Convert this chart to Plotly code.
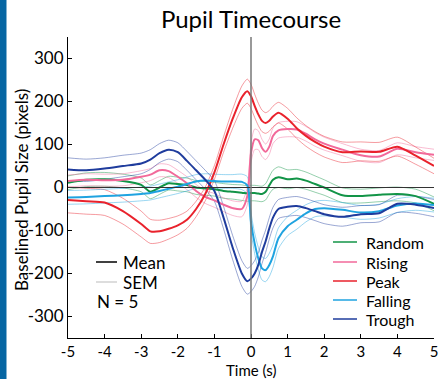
import plotly.graph_objects as go

# ---------------- data ----------------
time_s = [-5, -4.5, -4, -3.5, -3, -2.75, -2.5, -2.25, -2, -1.75, -1.5, -1.25, -1, -0.75,
          -0.5, -0.25, -0.1, 0, 0.1, 0.2, 0.3, 0.4, 0.5, 0.6, 0.75, 1, 1.25, 1.5, 1.75,
          2, 2.5, 3, 3.5, 4, 4.5, 5]

random_mean = [11, 18, 19, 15, 6, -10, 0, 10, 8, 6, 0, -2, -4, -8,
               -10, -12, -14, -13, -13, -14, -15, -10, 5, 18, 24, 19, 21, 16, 8,
               0, -18, -20, -17, -15, -20, -38]
random_sem = [16, 16, 16, 16, 16, 16, 16, 16, 16, 16, 16, 16, 16, 17,
              17, 18, 18, 18, 18, 18, 18, 19, 20, 22, 24, 22, 21, 20, 19,
              18, 17, 16, 16, 16, 16, 16]

rising_mean = [15, 18, 17, 18, 25, 30, 40, 38, 25, 10, -8, -22, -30, -40,
               -48, -50, -20, 80, 112, 110, 92, 83, 95, 120, 133, 136, 135, 125, 112,
               102, 88, 75, 72, 90, 82, 76]
rising_sem = [14, 14, 14, 14, 14, 14, 15, 15, 15, 15, 15, 15, 16, 16,
              17, 18, 20, 22, 24, 22, 20, 18, 18, 18, 18, 18, 18, 17, 16,
              15, 14, 14, 14, 14, 13, 13]

peak_mean = [-29, -32, -35, -55, -85, -102, -102, -96, -88, -75, -50, -15, 35, 100,
             160, 210, 224, 212, 190, 170, 155, 150, 155, 165, 174, 160, 138, 120, 106,
             95, 82, 84, 83, 95, 74, 50]
peak_sem = [30, 30, 30, 30, 30, 28, 26, 24, 22, 20, 18, 16, 16, 18,
            22, 26, 28, 28, 27, 26, 25, 24, 24, 24, 24, 24, 24, 24, 24,
            24, 24, 22, 22, 22, 20, 18]

falling_mean = [-23, -22, -20, -18, -15, -13, -8, -3, 2, 8, 14, 16, 15, 14,
                14, 13, 5, -80, -130, -165, -188, -192, -180, -160, -118, -90, -75, -60, -50,
                -48, -52, -58, -55, -42, -37, -41]
falling_sem = [16, 16, 16, 16, 16, 16, 16, 16, 16, 16, 16, 16, 16, 16,
               16, 18, 20, 22, 24, 26, 27, 27, 27, 26, 24, 22, 22, 20, 18,
               18, 17, 16, 16, 16, 16, 16]

trough_mean = [42, 40, 44, 50, 56, 65, 80, 88, 82, 62, 40, 18, -8, -70,
               -140, -200, -218, -212, -200, -180, -150, -125, -95, -70, -50, -45, -43, -48, -55,
               -62, -68, -62, -60, -38, -40, -48]
trough_sem = [27, 26, 25, 25, 24, 23, 22, 22, 22, 22, 22, 22, 24, 26,
              28, 30, 30, 30, 30, 28, 27, 26, 25, 24, 22, 22, 22, 22, 22,
              22, 22, 20, 20, 20, 20, 20]

conditions = ["Random", "Rising", "Peak", "Falling", "Trough"]
colors = ["#129447", "#f2699a", "#e9222c", "#1fa3e0", "#1f3c9d"]
sem_colors = ["rgba(18,148,71,0.45)", "rgba(242,105,154,0.45)", "rgba(233,34,44,0.45)",
              "rgba(31,163,224,0.45)", "rgba(31,60,157,0.45)"]
means = [random_mean, rising_mean, peak_mean, falling_mean, trough_mean]
sems = [random_sem, rising_sem, peak_sem, falling_sem, trough_sem]

x_ticks = [-5, -4, -3, -2, -1, 0, 1, 2, 3, 4, 5]
y_ticks = [-300, -200, -100, 0, 100, 200, 300]

FONT = "Lato, 'Open Sans', sans-serif"
W, H = 448, 379
L, R, T, B = 68, 14, 37, 41


def px(xp):
    return (xp - L) / (W - L - R)


def py(yp):
    return (H - B - yp) / (H - T - B)


fig = go.Figure()

# SEM lines first (under means)
for name, c, sc, m, s in zip(conditions, colors, sem_colors, means, sems):
    upper = [a + b for a, b in zip(m, s)]
    lower = [a - b for a, b in zip(m, s)]
    for arr in (upper, lower):
        fig.add_trace(go.Scatter(x=time_s, y=arr, mode="lines",
                                 line=dict(color=sc, width=1, shape="spline", smoothing=0.7),
                                 showlegend=False, hoverinfo="skip"))

for name, c, m in zip(conditions, colors, means):
    fig.add_trace(go.Scatter(x=time_s, y=m, mode="lines", name=name,
                             line=dict(color=c, width=2, shape="spline", smoothing=0.7),
                             showlegend=False))

shapes = []
# zero lines
shapes.append(dict(type="line", xref="x", yref="y", x0=-5, x1=5, y0=0, y1=0,
                   line=dict(color="#333333", width=1)))
shapes.append(dict(type="line", xref="x", yref="y", x0=0, x1=0, y0=-350, y1=350,
                   line=dict(color="#777777", width=1.5)))
# left blue strip
shapes.append(dict(type="rect", xref="paper", yref="paper", x0=px(0), x1=px(6.5),
                   y0=py(H), y1=py(0), fillcolor="#0666a3", line=dict(width=0), layer="below"))

annotations = []
# axis titles
annotations.append(dict(text="Time (s)", xref="paper", yref="paper", x=px(251), y=py(370),
                        xanchor="center", yanchor="middle", showarrow=False,
                        font=dict(family=FONT, size=15, color="black")))
annotations.append(dict(text="Baselined Pupil Size (pixels)", xref="paper", yref="paper",
                        x=px(21), y=py(190), xanchor="center", yanchor="middle",
                        textangle=-90, showarrow=False,
                        font=dict(family=FONT, size=17, color="black")))
# left legend: Mean / SEM / N
shapes.append(dict(type="line", xref="paper", yref="paper", x0=px(96), x1=px(117),
                   y0=py(262), y1=py(262), line=dict(color="black", width=1.5)))
shapes.append(dict(type="line", xref="paper", yref="paper", x0=px(96), x1=px(117),
                   y0=py(282), y1=py(282), line=dict(color="#bbbbbb", width=1)))
for txt, yy in (("Mean", 262), ("SEM", 282)):
    annotations.append(dict(text=txt, xref="paper", yref="paper", x=px(121), y=py(yy),
                            xanchor="left", yanchor="middle", showarrow=False,
                            font=dict(family=FONT, size=17, color="black")))
annotations.append(dict(text="N = 5", xref="paper", yref="paper", x=px(95), y=py(301),
                        xanchor="left", yanchor="middle", showarrow=False,
                        font=dict(family=FONT, size=17, color="black")))

# right legend: conditions
leg_y = [242, 262, 281, 300, 319]
for name, c, yy in zip(conditions, colors, leg_y):
    shapes.append(dict(type="line", xref="paper", yref="paper", x0=px(333), x1=px(357),
                       y0=py(yy), y1=py(yy), line=dict(color=c, width=1.5)))
    annotations.append(dict(text=name, xref="paper", yref="paper", x=px(364), y=py(yy),
                            xanchor="left", yanchor="middle", showarrow=False,
                            font=dict(family=FONT, size=16, color="black")))

fig.update_layout(
    width=W, height=H,
    margin=dict(l=L, r=R, t=T, b=B),
    paper_bgcolor="white", plot_bgcolor="white",
    showlegend=False,
    title=dict(text="Pupil Timecourse", x=251 / W, xanchor="center", y=1 - 20 / H,
               yanchor="middle", xref="container", yref="container",
               font=dict(family=FONT, size=24, color="black")),
    font=dict(family=FONT, size=17, color="black"),
    shapes=shapes, annotations=annotations,
)
fig.update_xaxes(range=[-5, 5], tickvals=x_ticks, ticktext=[str(v) for v in x_ticks],
                 showline=True, linecolor="black", linewidth=1, ticks="inside", ticklen=4,
                 tickcolor="black", showgrid=False, zeroline=False, automargin=False,
                 tickfont=dict(family=FONT, size=15))
fig.update_yaxes(range=[-350, 350], tickvals=y_ticks, ticktext=[str(v) for v in y_ticks],
                 showline=True, linecolor="black", linewidth=1, ticks="inside", ticklen=4,
                 tickcolor="black", showgrid=False, zeroline=False, automargin=False,
                 tickfont=dict(family=FONT, size=17))

fig.write_html("out.html", config=dict(displayModeBar=False))
